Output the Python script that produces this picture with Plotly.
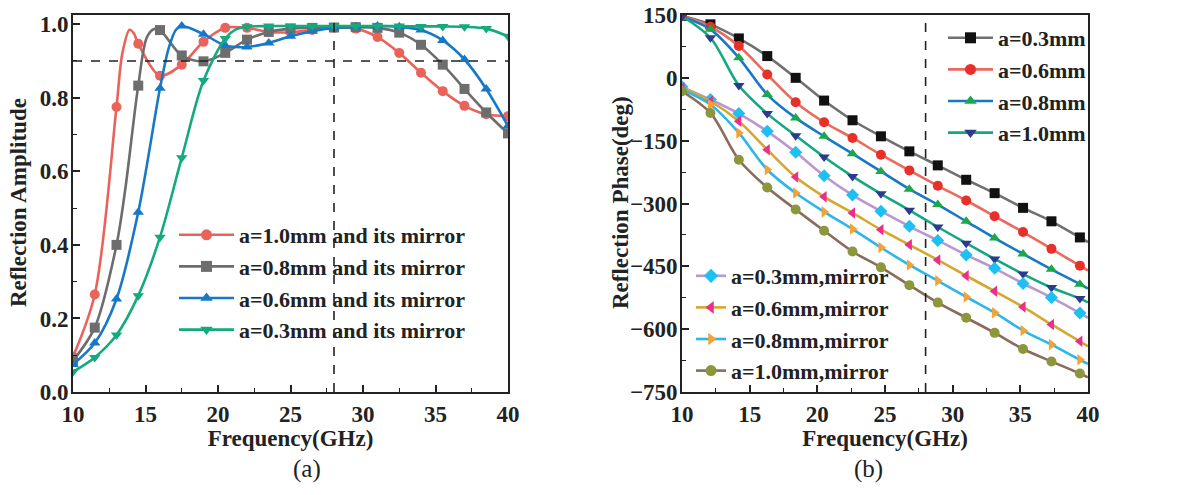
import plotly.graph_objects as go

# ---------------- Panel (a): reflection amplitude ----------------
f_amp = [10, 11.5, 13, 14.5, 16, 17.5, 19, 20.5, 22, 23.5, 25, 26.5, 28, 29.5, 31, 32.5, 34, 35.5, 37, 38.5, 40]
amp_a10 = [0.096, 0.265, 0.775, 0.947, 0.860, 0.890, 0.952, 0.990, 0.990, 0.979, 0.978, 0.984, 0.990, 0.988, 0.965, 0.922, 0.868, 0.818, 0.778, 0.755, 0.750]
amp_a08 = [0.085, 0.175, 0.400, 0.833, 0.984, 0.915, 0.899, 0.922, 0.958, 0.979, 0.988, 0.990, 0.991, 0.992, 0.990, 0.977, 0.944, 0.890, 0.824, 0.760, 0.703]
amp_a06 = [0.075, 0.133, 0.253, 0.489, 0.826, 0.995, 0.973, 0.942, 0.938, 0.949, 0.967, 0.981, 0.990, 0.993, 0.995, 0.993, 0.984, 0.956, 0.904, 0.824, 0.723]
amp_a03 = [0.055, 0.094, 0.155, 0.262, 0.421, 0.637, 0.847, 0.961, 0.993, 0.995, 0.995, 0.995, 0.995, 0.995, 0.995, 0.995, 0.994, 0.994, 0.993, 0.988, 0.967]
# extra curve points read between markers (sharp features)
ext_a10_f = [13.4, 13.9, 14.2]
ext_a10_v = [0.920, 0.985, 0.975]
ext_a08_f = [13.6, 15.1, 15.6]
ext_a08_v = [0.550, 0.965, 0.987]
ext_a06_f = [16.6, 17.1]
ext_a06_v = [0.935, 0.985]
ext_a03_f = [21.2]
ext_a03_v = [0.985]
amp_names = ["a=1.0mm and its mirror", "a=0.8mm and its mirror",
             "a=0.6mm and its mirror", "a=0.3mm and its mirror"]

# ---------------- Panel (b): reflection phase ----------------
f_ph = [10, 12.1, 14.2, 16.3, 18.4, 20.5, 22.6, 24.7, 26.8, 28.9, 31, 33.1, 35.2, 37.3, 39.4, 40]
ph_03 = [148, 127.7, 94.1, 51.9, 0, -54.3, -101.3, -139.6, -175.5, -209, -243.4, -275.3, -310.4, -342.5, -381, -392]
ph_06 = [148, 122, 75.8, 8, -58.3, -106, -143.6, -183.5, -221, -257.7, -292.8, -330.5, -368.2, -408.3, -448.4, -460]
ph_08 = [146, 115.7, 47.9, -39.9, -95.7, -139.6, -181, -223.4, -265.7, -302.4, -342.5, -382.6, -420.3, -457.2, -492.5, -503]
ph_10 = [147, 95.7, -18.4, -85.4, -138, -189, -235.4, -276.9, -316, -356.1, -394.6, -432.4, -468.4, -500.5, -527, -536]
ph_03m = [-21.5, -51.9, -85.4, -127.7, -177.9, -233.8, -280, -318.4, -354.5, -388.2, -422.7, -454.8, -490.9, -524.6, -561.5, -573]
ph_06m = [-24, -55.9, -103.7, -171.5, -236.9, -284, -322.5, -362.6, -398.7, -434.8, -472.5, -509.4, -547, -588.8, -628.9, -641]
ph_08m = [-28, -63.8, -131.6, -219.4, -275, -320, -361, -405, -446.8, -484.5, -523, -560.7, -603.2, -636.9, -673, -683]
ph_10m = [-32, -83.8, -195.5, -262, -314.4, -365, -414.7, -452.4, -494.9, -536.6, -572.7, -608.8, -647.3, -677, -705.9, -715]
n_ph_markers = 15  # last point (40 GHz) is curve end without marker
ph_names_top = ["a=0.3mm", "a=0.6mm", "a=0.8mm", "a=1.0mm"]
ph_names_bot = ["a=0.3mm,mirror", "a=0.6mm,mirror", "a=0.8mm,mirror", "a=1.0mm,mirror"]

FONT = "Liberation Serif"
fig = go.Figure()


def add_series(xs, ys, ex_f, ex_v, nmk, name, lcol, mcol, sym, msize, xa, ya, leg):
    pts = sorted(list(zip(xs, ys)) + list(zip(ex_f, ex_v)))
    fig.add_trace(go.Scatter(x=[p[0] for p in pts], y=[p[1] for p in pts], mode="lines",
                             line=dict(color=lcol, width=2.6, shape="spline", smoothing=0.9),
                             xaxis=xa, yaxis=ya, showlegend=False, hoverinfo="skip"))
    fig.add_trace(go.Scatter(x=xs[:nmk], y=ys[:nmk], mode="markers",
                             marker=dict(color=mcol, symbol=sym, size=msize, line=dict(width=0)),
                             xaxis=xa, yaxis=ya, showlegend=False))
    fig.add_trace(go.Scatter(x=[None], y=[None], mode="lines+markers", name=name,
                             line=dict(color=lcol, width=2.6),
                             marker=dict(color=mcol, symbol=sym, size=msize + 1, line=dict(width=0)),
                             xaxis=xa, yaxis=ya, legend=leg, showlegend=True))


amp_cols = ["#E9635B", "#6D6D6D", "#1878C8", "#14A97E"]
amp_syms = ["circle", "square", "triangle-up", "triangle-down"]
amp_sets = [(amp_a10, ext_a10_f, ext_a10_v), (amp_a08, ext_a08_f, ext_a08_v),
            (amp_a06, ext_a06_f, ext_a06_v), (amp_a03, ext_a03_f, ext_a03_v)]
for (vals, ef, ev), nm, c, s in zip(amp_sets, amp_names, amp_cols, amp_syms):
    add_series(f_amp, vals, ef, ev, len(f_amp), nm, c, c, s, 10, "x", "y", "legend")

top_lcol = ["#707070", "#EA6A5F", "#1878C8", "#15A77E"]
top_mcol = ["#111111", "#E8302A", "#1BA84A", "#2C3A8F"]
top_sym = ["square", "circle", "triangle-up", "triangle-down"]
for vals, nm, lc, mc, s in zip([ph_03, ph_06, ph_08, ph_10], ph_names_top, top_lcol, top_mcol, top_sym):
    add_series(f_ph, vals, [], [], n_ph_markers, nm, lc, mc, s, 10, "x2", "y2", "legend2")

bot_lcol = ["#B998CF", "#D5A72F", "#2EB6E8", "#8A6B5C"]
bot_mcol = ["#1CC0F2", "#EA2E8E", "#F6A133", "#8C963A"]
bot_sym = ["diamond", "triangle-left", "triangle-right", "circle"]
for vals, nm, lc, mc, s in zip([ph_03m, ph_06m, ph_08m, ph_10m], ph_names_bot, bot_lcol, bot_mcol, bot_sym):
    add_series(f_ph, vals, [], [], n_ph_markers, nm, lc, mc, s, 10, "x2", "y2", "legend3")

W, H = 1179, 495
ydom = [(H - 392) / H, (H - 15) / H]
tickfont = dict(family=FONT, size=23, color="#222222", weight="bold")
titlefont = dict(family=FONT, size=23, color="#222222", weight="bold")
legfont = dict(family=FONT, size=22, color="#222222", weight="bold")

common_x = dict(range=[10, 40], dtick=5, tick0=10, ticks="inside", ticklen=7, tickwidth=1.5,
                tickcolor="#222", showline=True, linecolor="#222", linewidth=1.8, mirror=True,
                showgrid=False, zeroline=False, tickfont=tickfont, automargin=False,
                ticklabelstandoff=0,
                minor=dict(dtick=2.5, ticks="inside", ticklen=4, tickwidth=1.2, tickcolor="#222"),
                title=dict(text="Frequency(GHz)", font=titlefont, standoff=0))
common_y = dict(ticks="inside", ticklen=7, tickwidth=1.5, tickcolor="#222", showline=True,
                linecolor="#222", linewidth=1.8, mirror=True, showgrid=False, zeroline=False,
                tickfont=tickfont, automargin=False, ticklabelstandoff=-2)

fig.update_layout(
    width=W, height=H, autosize=False,
    margin=dict(l=0, r=0, t=0, b=0, autoexpand=False),
    paper_bgcolor="white", plot_bgcolor="white",
    xaxis=dict(domain=[73 / W, 508 / W], anchor="y", **common_x),
    yaxis=dict(domain=ydom, anchor="x", range=[0, 1.025], dtick=0.2, tick0=0, tickformat=".1f",
               minor=dict(dtick=0.1, ticks="inside", ticklen=4, tickwidth=1.2, tickcolor="#222"),
               **common_y),
    xaxis2=dict(domain=[682 / W, 1088 / W], anchor="y2", **common_x),
    yaxis2=dict(domain=ydom, anchor="x2", range=[-750, 150], dtick=150, tick0=150,
                minor=dict(dtick=75, ticks="inside", ticklen=4, tickwidth=1.2, tickcolor="#222"),
                **common_y),
    legend=dict(x=174 / W, y=(H - 214) / H, xanchor="left", yanchor="top",
                bgcolor="rgba(0,0,0,0)", font=legfont, tracegroupgap=0, itemwidth=55),
    legend2=dict(x=943 / W, y=(H - 17) / H, xanchor="left", yanchor="top",
                 bgcolor="rgba(0,0,0,0)", font=legfont, tracegroupgap=0, itemwidth=45),
    legend3=dict(x=691 / W, y=(H - 255) / H, xanchor="left", yanchor="top",
                 bgcolor="rgba(0,0,0,0)", font=legfont, tracegroupgap=0, itemwidth=30),
    annotations=[
        dict(text="Reflection Amplitude", x=18 / W, y=(H - 203) / H, xref="paper", yref="paper",
             textangle=-90, showarrow=False, font=titlefont, xanchor="center", yanchor="middle"),
        dict(text="Reflection Phase(deg)", x=620 / W, y=(H - 203) / H, xref="paper", yref="paper",
             textangle=-90, showarrow=False, font=titlefont, xanchor="center", yanchor="middle"),
        dict(text="(a)", x=(73 + 508) / 2 / W, y=(H - 469) / H, xref="paper", yref="paper",
             showarrow=False, font=dict(family=FONT, size=25, color="#222"), yanchor="middle"),
        dict(text="(b)", x=(682 + 1088) / 2 / W, y=(H - 469) / H, xref="paper", yref="paper",
             showarrow=False, font=dict(family=FONT, size=25, color="#222"), yanchor="middle"),
    ],
    shapes=[
        dict(type="line", xref="x", yref="y", x0=10, x1=40, y0=0.9, y1=0.9,
             line=dict(color="#222", width=1.6, dash="dash")),
        dict(type="line", xref="x", yref="y domain", x0=28, x1=28, y0=0, y1=1,
             line=dict(color="#222", width=1.6, dash="dash")),
        dict(type="line", xref="x2", yref="y2 domain", x0=28, x1=28, y0=0, y1=1,
             line=dict(color="#222", width=1.6, dash="dash")),
    ],
)

fig.write_html("out.html", config={"displayModeBar": False},
               post_script="document.body.style.margin='0';document.body.style.padding='0';")
